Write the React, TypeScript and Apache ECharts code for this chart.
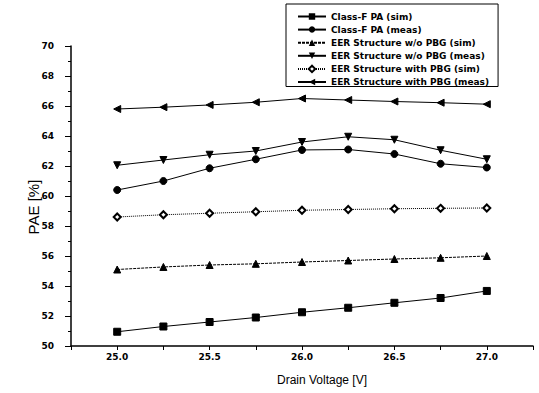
import React, { useEffect, useRef } from "react";
import * as echarts from "echarts";

const voltages = [25.0, 25.25, 25.5, 25.75, 26.0, 26.25, 26.5, 26.75, 27.0];
const classFSim = [50.95, 51.3, 51.6, 51.9, 52.25, 52.55, 52.88, 53.2, 53.67];
const classFMeas = [60.4, 61.0, 61.85, 62.45, 63.07, 63.1, 62.8, 62.15, 61.9];
const eerNoPbgSim = [55.1, 55.27, 55.4, 55.48, 55.6, 55.7, 55.8, 55.88, 56.0];
const eerNoPbgMeas = [62.05, 62.4, 62.75, 63.0, 63.6, 63.95, 63.75, 63.05, 62.45];
const eerPbgSim = [58.6, 58.75, 58.85, 58.95, 59.05, 59.1, 59.15, 59.18, 59.2];
const eerPbgMeas = [65.8, 65.92, 66.07, 66.25, 66.5, 66.4, 66.3, 66.22, 66.12];

const seriesNames = [
  "Class-F PA (sim)",
  "Class-F PA (meas)",
  "EER Structure w/o PBG (sim)",
  "EER Structure w/o PBG (meas)",
  "EER Structure with PBG (sim)",
  "EER Structure with PBG (meas)",
];

const FONT = "Liberation Sans, Arial, sans-serif";
const BOLD_FONT = "DejaVu Sans, sans-serif";

export default function App() {
  const ref = useRef<HTMLDivElement>(null);
  useEffect(() => {
    if (!ref.current) return;
    const chart = echarts.init(ref.current, undefined, { renderer: "svg" });
    const pair = (arr: number[]) => voltages.map((v, i) => [v, arr[i]]);
    const mk = (
      name: string,
      data: number[],
      symbol: string,
      rotate: number,
      lineType: any,
      size = 7
    ) => ({
      name,
      type: "line",
      data: pair(data),
      symbol,
      symbolSize: size,
      symbolRotate: rotate,
      showAllSymbol: true,
      lineStyle: { color: "#000", width: 1, type: lineType },
      itemStyle: { color: "#000", borderColor: "#000" },
    });
    chart.setOption({
      animation: false,
      backgroundColor: "#fff",
      grid: { left: 71, right: 6, top: 46, bottom: 47 },
      graphic: [
        {
          type: "text",
          x: 33,
          y: 207,
          rotation: Math.PI / 2,
          style: {
            text: "PAE [%]",
            fontFamily: FONT,
            fontSize: 15,
            fill: "#000",
            align: "center",
            verticalAlign: "middle",
          },
        },
      ],
      legend: {
        orient: "vertical",
        left: 286,
        top: 4,
        padding: [8, 9, 0, 11],
        borderColor: "#000",
        borderWidth: 1,
        itemWidth: 28,
        itemHeight: 8,
        itemGap: 4.1,
        textStyle: {
          fontFamily: BOLD_FONT,
          fontWeight: "bold",
          fontSize: 9,
          lineHeight: 8,
          color: "#000",
        },
        data: seriesNames,
      },
      xAxis: {
        type: "value",
        min: 24.75,
        max: 27.25,
        interval: 0.25,
        name: "Drain Voltage [V]",
        nameLocation: "middle",
        nameGap: 28,
        nameTextStyle: { fontFamily: FONT, fontSize: 12, color: "#000", padding: [0, 0, 0, 40] },
        axisLine: { show: true, lineStyle: { color: "#000", width: 1.5 } },
        axisTick: { show: true, length: 4, lineStyle: { color: "#000" } },
        axisLabel: {
          margin: 6,
          fontFamily: BOLD_FONT,
          fontWeight: "bold",
          fontSize: 9,
          color: "#000",
          formatter: (v: number) => {
            const r = Math.round(v * 100) / 100;
            if (r < 25 || r > 27) return "";
            return Math.abs(r * 2 - Math.round(r * 2)) < 1e-6 ? r.toFixed(1) : "";
          },
        },
        splitLine: { show: false },
      },
      yAxis: {
        type: "value",
        min: 50,
        max: 70,
        interval: 2,
        axisLine: { show: true, lineStyle: { color: "#000", width: 1.5 } },
        axisTick: { show: true, length: 6, lineStyle: { color: "#000" } },
        minorTick: { show: true, splitNumber: 2, length: 3, lineStyle: { color: "#000" } },
        axisLabel: {
          margin: 17,
          fontFamily: BOLD_FONT,
          fontWeight: "bold",
          fontSize: 9,
          color: "#000",
        },
        splitLine: { show: false },
      },
      series: [
        mk(seriesNames[0], classFSim, "rect", 0, "solid"),
        mk(seriesNames[1], classFMeas, "circle", 0, "solid"),
        mk(seriesNames[2], eerNoPbgSim, "triangle", 0, [3, 1]),
        mk(seriesNames[3], eerNoPbgMeas, "triangle", 180, "solid"),
        mk(seriesNames[4], eerPbgSim, "emptyDiamond", 0, [1, 1]),
        mk(seriesNames[5], eerPbgMeas, "triangle", 90, "solid"),
      ],
    });
    return () => chart.dispose();
  }, []);
  return (
    <div
      ref={ref}
      style={{ position: "fixed", left: 0, top: 0, width: 539, height: 393, background: "#fff" }}
    />
  );
}
